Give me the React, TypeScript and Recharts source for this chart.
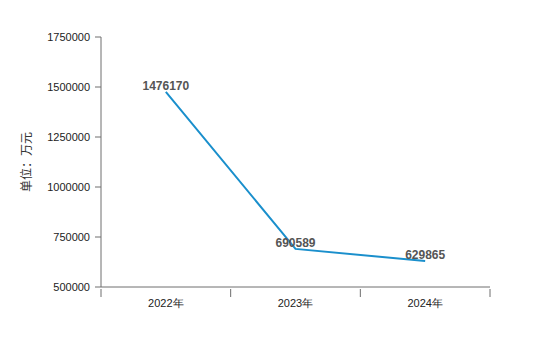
import React from "react";
import { LineChart, Line, XAxis, YAxis, LabelList, Label } from "recharts";

const categories = ["2022年", "2023年", "2024年"];
const values = [1476170, 690589, 629865];
const yTicks = [500000, 750000, 1000000, 1250000, 1500000, 1750000];
const yLabel = "单位：万元";

const data = categories.map((c, i) => ({ name: c, value: values[i] }));

const AXIS = "#6e6e6e";

const XTick = (props: any) => {
  const { x, y, payload, index } = props;
  const off = payload.offset || 0;
  const last = index === categories.length - 1;
  return (
    <g>
      <line x1={x - off} y1={y - 6} x2={x - off} y2={y + 2} stroke={AXIS} strokeWidth={1} />
      {last && <line x1={x + off} y1={y - 6} x2={x + off} y2={y + 2} stroke={AXIS} strokeWidth={1} />}
      <text x={x} y={y + 12} textAnchor="middle" fontSize={11} fill="#222" fontFamily="Arial, 'Liberation Sans', sans-serif">
        {payload.value}
      </text>
    </g>
  );
};

export default function App() {
  return (
    <LineChart width={552} height={338} data={data} margin={{ top: 29, right: 70, bottom: 0, left: 0 }}>
      <XAxis
        dataKey="name"
        scale="band"
        height={59}
        axisLine={{ stroke: AXIS, strokeWidth: 1 }}
        tickLine={false}
        tick={<XTick />}
        interval={0}
      />
      <YAxis
        width={93}
        domain={[500000, 1750000]}
        ticks={yTicks}
        interval={0}
        axisLine={{ stroke: AXIS, strokeWidth: 1 }}
        tickLine={{ stroke: AXIS }}
        tickSize={6}
        tickMargin={5}
        tick={{ fontSize: 11, fill: "#222", fontFamily: "Arial, 'Liberation Sans', sans-serif" }}
      >
        <Label
          value={yLabel}
          angle={-90}
          position="insideLeft"
          offset={19}
          style={{ fontSize: 12, fill: "#333", fontFamily: "'Noto Sans CJK SC', sans-serif", textAnchor: "middle" }}
        />
      </YAxis>
      <Line
        dataKey="value"
        stroke="#1a8fcc"
        strokeWidth={2}
        dot={false}
        isAnimationActive={false}
      >
        <LabelList
          dataKey="value"
          position="top"
          offset={2}
          style={{ fontSize: 12, fontWeight: "bold", fill: "#555", fontFamily: "Arial, 'Liberation Sans', sans-serif" }}
        />
      </Line>
    </LineChart>
  );
}
